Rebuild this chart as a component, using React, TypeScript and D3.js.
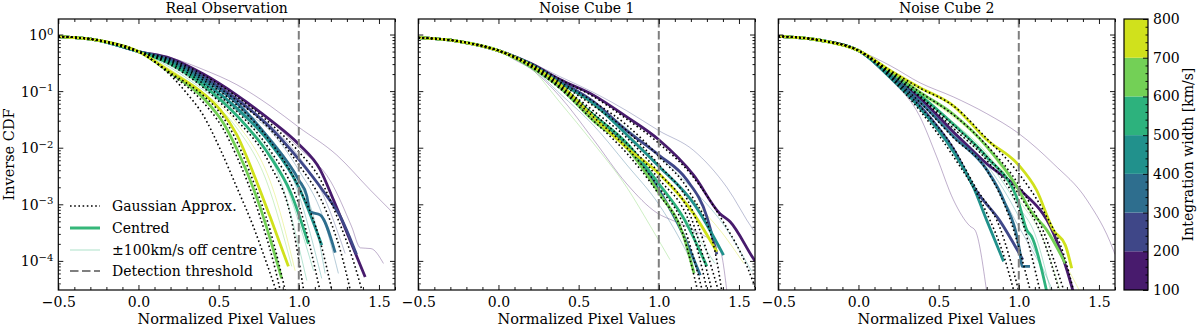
import React, { useEffect, useRef } from "react";
import * as d3 from "d3";

type Pt = [number, number];
type Curve = { band: number; pts: Pt[] };

// integration width bins [km/s], one colour per bin
const widthBins = [100, 200, 300, 400, 500, 600, 700, 800];
const panelTitles = ["Real Observation", "Noise Cube 1", "Noise Cube 2"];
const xMajorTicks = [-0.5, 0, 0.5, 1.0, 1.5];
const yMajorTicks = [1, 1e-1, 1e-2, 1e-3, 1e-4];
const yTickExponents = ["0", "\u22121", "\u22122", "\u22123", "\u22124"];
const detectionThreshold = 1.0;
const legendLabels = ["Gaussian Approx.", "Centred", "\u00b1100km/s off centre", "Detection threshold"];

// ---- Real Observation ----
const realHead: Pt[] = [[-0.5, 0.92], [-0.25, 0.79], [0, 0.5]];
const realCentred: Curve[] = [
  { band: 0, pts: [...realHead, [0.2, 0.38], [0.405, 0.2], [0.613, 0.085], [0.821, 0.031], [1.0, 0.0115], [1.133, 4.1e-3], [1.216, 1.2e-3], [1.32, 2.3e-4], [1.414, 5.2e-5]] },
  { band: 1, pts: [...realHead, [0.2, 0.36], [0.405, 0.18], [0.613, 0.072], [0.821, 0.023], [1.0, 6.2e-3], [1.16, 1.6e-3], [1.26, 6e-4], [1.36, 1.3e-4]] },
  { band: 2, pts: [...realHead, [0.2, 0.34], [0.405, 0.165], [0.613, 0.062], [0.821, 0.0138], [1.0, 2.7e-3], [1.05, 1.4e-3], [1.07, 7.4e-4], [1.133, 6.5e-4], [1.227, 1.4e-4]] },
  { band: 3, pts: [...realHead, [0.2, 0.32], [0.405, 0.145], [0.613, 0.05], [0.821, 0.012], [1.0, 2e-3], [1.143, 1.9e-4]] },
  { band: 4, pts: [...realHead, [0.2, 0.3], [0.405, 0.125], [0.613, 0.037], [0.821, 7e-3], [0.95, 1.6e-3], [1.06, 2e-4]] },
  { band: 5, pts: [...realHead, [0.2, 0.21], [0.405, 0.075], [0.53, 0.027], [0.613, 9.5e-3], [0.758, 9e-4], [0.893, 4.9e-5]] },
  { band: 6, pts: [...realHead, [0.2, 0.22], [0.405, 0.09], [0.509, 0.047], [0.613, 0.017], [0.717, 3.5e-3], [0.821, 6e-4], [0.935, 8e-5]] },
];
const realGauss: Pt[][] = [
  [...realHead, [0.2, 0.19], [0.29, 0.1], [0.405, 0.037], [0.509, 9.5e-3], [0.613, 2e-3], [0.717, 4e-4], [0.8, 9e-5], [0.862, 2.8e-5]],
  [...realHead, [0.2, 0.2], [0.405, 0.063], [0.53, 0.021], [0.613, 7e-3], [0.758, 6e-4], [0.84, 1e-4], [0.887, 2.8e-5]],
  [...realHead, [0.2, 0.21], [0.405, 0.083], [0.509, 0.041], [0.613, 0.013], [0.717, 2.5e-3], [0.821, 3.5e-4], [0.918, 2.8e-5]],
  [...realHead, [0.2, 0.29], [0.405, 0.115], [0.613, 0.031], [0.821, 5e-3], [0.95, 6e-4], [1.032, 2.8e-5]],
  [...realHead, [0.2, 0.31], [0.405, 0.135], [0.613, 0.044], [0.821, 9e-3], [1.0, 1e-3], [1.134, 2.8e-5]],
  [...realHead, [0.2, 0.33], [0.405, 0.155], [0.613, 0.057], [0.821, 0.013], [1.0, 2e-3], [1.12, 3e-4], [1.209, 2.8e-5]],
  [...realHead, [0.2, 0.35], [0.405, 0.172], [0.613, 0.068], [0.821, 0.021], [1.0, 5e-3], [1.16, 9e-4], [1.26, 1.5e-4], [1.324, 2.8e-5]],
  [...realHead, [0.2, 0.37], [0.405, 0.192], [0.613, 0.08], [0.821, 0.027], [1.0, 8.5e-3], [1.133, 2.8e-3], [1.25, 5e-4], [1.34, 1e-4], [1.397, 2.8e-5]],
];
const realOffCentre: Curve[] = [
  { band: 0, pts: [...realHead, [0.2, 0.39], [0.405, 0.24], [0.613, 0.13], [0.821, 0.055], [1.0, 0.023], [1.237, 7.4e-3], [1.445, 1.8e-3], [1.6, 6.5e-4]] },
  { band: 0, pts: [...realHead, [0.2, 0.36], [0.405, 0.18], [0.613, 0.075], [0.821, 0.03], [1.0, 0.01], [1.2, 2.5e-3], [1.33, 4e-4], [1.384, 1.7e-4], [1.45, 1.65e-4], [1.528, 9e-5]] },
  { band: 1, pts: [...realHead, [0.2, 0.35], [0.405, 0.165], [0.613, 0.063], [0.821, 0.025], [1.0, 7e-3], [1.15, 1.5e-3], [1.289, 1.35e-4]] },
  { band: 2, pts: [...realHead, [0.2, 0.33], [0.405, 0.155], [0.613, 0.052], [0.821, 0.02], [1.0, 4e-3], [1.15, 6e-4], [1.247, 6e-5]] },
  { band: 3, pts: [...realHead, [0.2, 0.31], [0.405, 0.135], [0.613, 0.044], [0.821, 0.015], [1.0, 2.5e-3], [1.1, 5e-4], [1.164, 6e-5]] },
  { band: 3, pts: [...realHead, [0.2, 0.3], [0.405, 0.125], [0.7, 0.03], [1.0, 1.5e-3], [1.143, 4.9e-5]] },
  { band: 4, pts: [...realHead, [0.2, 0.28], [0.405, 0.115], [0.7, 0.025], [0.9, 3e-3], [1.092, 6.7e-5]] },
  { band: 4, pts: [...realHead, [0.2, 0.26], [0.405, 0.105], [0.6, 0.04], [0.9, 2e-3], [1.05, 4.5e-5]] },
  { band: 6, pts: [...realHead, [0.2, 0.24], [0.405, 0.095], [0.6, 0.03], [0.85, 1.5e-3], [0.977, 6.7e-5]] },
  { band: 5, pts: [...realHead, [0.2, 0.22], [0.405, 0.085], [0.6, 0.025], [0.8, 2.5e-3], [0.956, 8e-5]] },
];

// ---- Noise Cube 1 ----
const noise1Head: Pt[] = [[-0.5, 0.88], [-0.25, 0.76], [0, 0.52]];
const noise1Centred: Curve[] = [
  { band: 0, pts: [...noise1Head, [0.2, 0.31], [0.384, 0.16], [0.592, 0.085], [0.8, 0.035], [1.0, 0.0138], [1.216, 3.3e-3], [1.38, 6.9e-4], [1.445, 4.9e-4], [1.59, 1.1e-4], [1.6, 1e-4]] },
  { band: 1, pts: [...noise1Head, [0.2, 0.3], [0.384, 0.15], [0.592, 0.065], [0.8, 0.02], [1.0, 7.4e-3], [1.175, 2.7e-3], [1.3, 6e-4], [1.362, 1.3e-4]] },
  { band: 2, pts: [...noise1Head, [0.2, 0.28], [0.384, 0.12], [0.592, 0.035], [0.8, 0.011], [1.0, 1.8e-3], [1.15, 3e-4], [1.258, 5.6e-5]] },
  { band: 3, pts: [...noise1Head, [0.2, 0.3], [0.384, 0.14], [0.592, 0.06], [0.8, 0.017], [1.0, 4.7e-3], [1.216, 1.05e-3], [1.404, 1.26e-4]] },
  { band: 4, pts: [...noise1Head, [0.2, 0.28], [0.384, 0.125], [0.592, 0.038], [0.8, 0.012], [1.0, 2.3e-3], [1.15, 6e-4], [1.3, 8e-5]] },
  { band: 5, pts: [...noise1Head, [0.2, 0.27], [0.384, 0.115], [0.592, 0.03], [0.8, 0.01], [1.0, 1.6e-3], [1.15, 3e-4], [1.22, 6e-5]] },
  { band: 6, pts: [...noise1Head, [0.2, 0.29], [0.384, 0.13], [0.592, 0.035], [0.8, 0.01], [1.0, 3.5e-3], [1.216, 6.9e-4], [1.362, 1.45e-4]] },
];
const noise1Gauss: Pt[][] = [
  [...noise1Head, [0.2, 0.27], [0.384, 0.11], [0.592, 0.03], [0.8, 8e-3], [1.0, 1.5e-3], [1.15, 3e-4], [1.244, 2.8e-5]],
  [...noise1Head, [0.2, 0.275], [0.384, 0.115], [0.592, 0.035], [0.8, 0.01], [1.0, 2e-3], [1.15, 4.5e-4], [1.274, 2.8e-5]],
  [...noise1Head, [0.2, 0.28], [0.384, 0.12], [0.592, 0.04], [0.8, 0.012], [1.0, 2.8e-3], [1.2, 4e-4], [1.304, 2.8e-5]],
  [...noise1Head, [0.2, 0.285], [0.384, 0.125], [0.592, 0.045], [0.8, 0.015], [1.0, 3.6e-3], [1.2, 6e-4], [1.334, 2.8e-5]],
  [...noise1Head, [0.2, 0.29], [0.384, 0.135], [0.592, 0.055], [0.8, 0.02], [1.0, 5e-3], [1.2, 9e-4], [1.374, 2.8e-5]],
  [...noise1Head, [0.2, 0.3], [0.384, 0.145], [0.592, 0.065], [0.8, 0.025], [1.0, 7e-3], [1.2, 1.5e-3], [1.35, 1.5e-4], [1.394, 2.8e-5]],
  [...noise1Head, [0.2, 0.31], [0.384, 0.16], [0.592, 0.08], [0.8, 0.032], [1.0, 0.012], [1.216, 3e-3], [1.4, 5e-4], [1.55, 8e-5], [1.6, 3.5e-5]],
];
const noise1OffCentre: Curve[] = [
  { band: 1, pts: [...noise1Head, [0.2, 0.32], [0.384, 0.18], [0.592, 0.095], [0.8, 0.045], [1.0, 0.02], [1.216, 9e-3], [1.424, 2e-3], [1.59, 3.5e-4], [1.6, 3.2e-4]] },
  { band: 0, pts: [...noise1Head, [0.1, 0.36], [0.2, 0.25], [0.384, 0.08], [0.592, 0.014], [0.8, 2.3e-3], [0.99, 7e-4], [1.1, 5e-4], [1.216, 3.5e-4], [1.383, 1.5e-4], [1.424, 3e-5]] },
  { band: 5, pts: [...noise1Head, [0.2, 0.26], [0.384, 0.063], [0.592, 0.012], [0.8, 2e-3], [0.95, 4e-4], [1.07, 1.05e-4]] },
  { band: 2, pts: [...noise1Head, [0.2, 0.27], [0.384, 0.09], [0.592, 0.025], [0.8, 5e-3], [1.0, 1e-3], [1.1, 3.5e-4], [1.21, 9e-5]] },
  { band: 6, pts: [...noise1Head, [0.2, 0.3], [0.384, 0.14], [0.592, 0.055], [0.8, 0.018], [1.0, 5e-3], [1.2, 1.3e-3], [1.4, 3e-4], [1.53, 9e-5]] },
  { band: 3, pts: [...noise1Head, [0.2, 0.3], [0.384, 0.145], [0.592, 0.06], [0.8, 0.022], [1.0, 7e-3], [1.2, 2e-3], [1.4, 4.5e-4], [1.58, 6.5e-5]] },
  { band: 4, pts: [...noise1Head, [0.2, 0.28], [0.384, 0.12], [0.592, 0.04], [0.8, 0.011], [1.0, 2.5e-3], [1.2, 4e-4], [1.35, 9e-5]] },
];

// ---- Noise Cube 2 ----
const noise2Head: Pt[] = [[-0.5, 0.93], [-0.25, 0.8], [0, 0.52]];
const noise2Centred: Curve[] = [
  { band: 0, pts: [...noise2Head, [0.2, 0.2], [0.384, 0.075], [0.592, 0.019], [0.8, 5.2e-3], [1.0, 1.9e-3], [1.216, 3.1e-4], [1.3, 6.9e-5], [1.34, 2.8e-5]] },
  { band: 1, pts: [...noise2Head, [0.2, 0.18], [0.384, 0.055], [0.592, 9.5e-3], [0.73, 1.8e-3], [0.88, 5.2e-4], [1.025, 1.05e-4]] },
  { band: 2, pts: [...noise2Head, [0.2, 0.19], [0.384, 0.065], [0.592, 0.016], [0.8, 4.1e-3], [0.904, 1.2e-3], [1.008, 1.35e-4], [1.02, 8e-5], [1.07, 8e-5]] },
  { band: 3, pts: [...noise2Head, [0.2, 0.17], [0.384, 0.05], [0.592, 8.5e-3], [0.717, 2e-3], [0.8, 5.2e-4], [0.905, 9.8e-5]] },
  { band: 4, pts: [...noise2Head, [0.2, 0.21], [0.384, 0.085], [0.592, 0.026], [0.8, 6.9e-3], [1.0, 1.05e-3], [1.05, 3.5e-4], [1.08, 2.7e-4], [1.175, 2.8e-5]] },
  { band: 5, pts: [...noise2Head, [0.2, 0.22], [0.384, 0.095], [0.592, 0.039], [0.8, 0.0105], [1.0, 1.8e-3], [1.07, 7.9e-4], [1.175, 3.5e-4], [1.29, 9e-5]] },
  { band: 6, pts: [...noise2Head, [0.2, 0.23], [0.384, 0.115], [0.592, 0.055], [0.8, 0.0138], [1.0, 4.9e-3], [1.11, 1.8e-3], [1.216, 3.5e-4], [1.29, 1.9e-4], [1.33, 7.4e-5]] },
];
const noise2Gauss: Pt[][] = [
  [...noise2Head, [0.2, 0.17], [0.384, 0.045], [0.592, 7e-3], [0.8, 7e-4], [0.9, 1.4e-4], [0.971, 2.8e-5]],
  [...noise2Head, [0.2, 0.18], [0.384, 0.053], [0.592, 0.01], [0.73, 2e-3], [0.88, 4e-4], [1.002, 2.8e-5]],
  [...noise2Head, [0.2, 0.19], [0.384, 0.063], [0.592, 0.015], [0.8, 4e-3], [0.95, 5e-4], [1.074, 2.8e-5]],
  [...noise2Head, [0.2, 0.205], [0.384, 0.078], [0.592, 0.022], [0.8, 6e-3], [1.0, 8e-4], [1.134, 2.8e-5]],
  [...noise2Head, [0.2, 0.21], [0.384, 0.082], [0.592, 0.025], [0.8, 7e-3], [1.0, 1.5e-3], [1.15, 2.5e-4], [1.254, 2.8e-5]],
  [...noise2Head, [0.2, 0.22], [0.384, 0.095], [0.592, 0.038], [0.8, 0.011], [1.0, 2.2e-3], [1.15, 3.5e-4], [1.284, 2.8e-5]],
  [...noise2Head, [0.2, 0.23], [0.384, 0.113], [0.592, 0.055], [0.8, 0.0145], [1.0, 3.5e-3], [1.15, 8e-4], [1.28, 1.3e-4], [1.344, 2.8e-5]],
];
const noise2OffCentre: Curve[] = [
  { band: 0, pts: [...noise2Head, [0.2, 0.28], [0.384, 0.14], [0.592, 0.079], [0.8, 0.04], [1.0, 0.0178], [1.216, 5.2e-3], [1.424, 1.2e-3], [1.59, 1.55e-4], [1.6, 1.3e-4]] },
  { band: 0, pts: [...noise2Head, [0.1, 0.3], [0.2, 0.16], [0.384, 0.035], [0.488, 6.9e-3], [0.592, 1.2e-3], [0.696, 4.1e-4], [0.727, 3.5e-4], [0.8, 2.8e-5]] },
  { band: 3, pts: [...noise2Head, [0.2, 0.19], [0.384, 0.07], [0.592, 0.02], [0.8, 5e-3], [1.0, 6e-4], [1.1, 1.5e-4], [1.216, 2.8e-5]] },
  { band: 6, pts: [...noise2Head, [0.2, 0.22], [0.384, 0.09], [0.592, 0.035], [0.8, 0.01], [1.0, 1.5e-3], [1.2, 2.5e-4], [1.383, 2.8e-5]] },
  { band: 5, pts: [...noise2Head, [0.2, 0.21], [0.384, 0.08], [0.592, 0.028], [0.8, 8e-3], [1.0, 1.2e-3], [1.15, 2.5e-4], [1.26, 2.8e-5]] },
  { band: 2, pts: [...noise2Head, [0.2, 0.19], [0.384, 0.065], [0.592, 0.018], [0.8, 4e-3], [1.0, 4e-4], [1.13, 9e-5]] },
  { band: 4, pts: [...noise2Head, [0.2, 0.21], [0.384, 0.075], [0.592, 0.022], [0.8, 6e-3], [1.0, 9e-4], [1.1, 3e-4], [1.2, 2.8e-5]] },
];

const panels = [
  { title: panelTitles[0], centred: realCentred, gauss: realGauss, off: realOffCentre },
  { title: panelTitles[1], centred: noise1Centred, gauss: noise1Gauss, off: noise1OffCentre },
  { title: panelTitles[2], centred: noise2Centred, gauss: noise2Gauss, off: noise2OffCentre },
];

const FONT = "'DejaVu Serif', serif";
const FS = 14;
const PANEL_X = [58.3, 418.3, 778.3];
const TOP = 19;
const PW = 336.7;
const PH = 271;
const THRESH_DASH = "8.5,3.5";

export default function App() {
  const ref = useRef<SVGSVGElement>(null);

  useEffect(() => {
    const svg = d3.select(ref.current);
    svg.selectAll("*").remove();

    const x = d3.scaleLinear().domain([-0.5, 1.6]).range([0, PW]);
    const y = d3.scaleLog().domain([3.06e-5, 1.88]).range([PH, 0]);
    const nBins = widthBins.length - 1;
    const color = (b: number) => d3.interpolateViridis((b + 0.5) / nBins);
    const line = d3
      .line<Pt>()
      .x((d) => x(d[0]))
      .y((d) => y(d[1]))
      .curve(d3.curveMonotoneX);

    const xMinor = d3.range(-5, 17).map((v) => v / 10).filter((v) => !xMajorTicks.some((m) => Math.abs(m - v) < 1e-6));
    const yMinor: number[] = [];
    for (let e = -5; e <= 0; e++) {
      for (let k = 2; k <= 9; k++) {
        const v = k * Math.pow(10, e);
        if (v > 3.06e-5 && v < 1.88) yMinor.push(v);
      }
    }

    const styleAxis = (g: any) => {
      g.select(".domain").remove();
      g.selectAll("line").attr("stroke", "#000").attr("stroke-width", 0.9);
      g.selectAll("text").attr("font-family", FONT).attr("font-size", FS).attr("fill", "#000");
    };

    panels.forEach((p, i) => {
      const g = svg.append("g").attr("transform", `translate(${PANEL_X[i]},${TOP})`);
      g.append("clipPath").attr("id", `clip${i}`).append("rect").attr("width", PW).attr("height", PH);
      const plot = g.append("g").attr("clip-path", `url(#clip${i})`);

      // ±100 km/s off-centre
      plot
        .selectAll(".off")
        .data(p.off)
        .join("path")
        .attr("d", (d) => line(d.pts))
        .attr("fill", "none")
        .attr("stroke", (d) => color(d.band))
        .attr("stroke-width", 1)
        .attr("stroke-opacity", 0.35);

      // centred
      plot
        .selectAll(".cen")
        .data(p.centred)
        .join("path")
        .attr("d", (d) => line(d.pts))
        .attr("fill", "none")
        .attr("stroke", (d) => color(d.band))
        .attr("stroke-width", 2.8);

      // gaussian approximation
      plot
        .selectAll(".gau")
        .data(p.gauss)
        .join("path")
        .attr("d", (d) => line(d))
        .attr("fill", "none")
        .attr("stroke", "#000")
        .attr("stroke-width", 1.6)
        .attr("stroke-dasharray", "1.6,2.6");

      // detection threshold
      plot
        .append("line")
        .attr("x1", x(detectionThreshold))
        .attr("x2", x(detectionThreshold))
        .attr("y1", 0)
        .attr("y2", PH)
        .attr("stroke", "#7f7f7f")
        .attr("stroke-width", 2)
        .attr("stroke-dasharray", THRESH_DASH);

      // ticks on all four sides, pointing in
      g.append("g").attr("transform", `translate(0,${PH})`)
        .call(d3.axisBottom(x).tickValues(xMajorTicks).tickSize(-5).tickPadding(7).tickFormat((d) => d3.format(".1f")(d as number).replace("-", "\u2212")))
        .call(styleAxis);
      g.append("g").attr("transform", `translate(0,${PH})`)
        .call(d3.axisBottom(x).tickValues(xMinor).tickSize(-3).tickFormat(() => ""))
        .call(styleAxis);
      g.append("g").call(d3.axisTop(x).tickValues(xMajorTicks).tickSize(-5).tickFormat(() => "")).call(styleAxis);
      g.append("g").call(d3.axisTop(x).tickValues(xMinor).tickSize(-3).tickFormat(() => "")).call(styleAxis);

      const yl = g.append("g")
        .call(d3.axisLeft(y).tickValues(yMajorTicks).tickSize(-5).tickPadding(5).tickFormat(() => ""))
        .call(styleAxis);
      if (i === 0) {
        yl.selectAll<SVGTextElement, number>("text").each(function (_d, k) {
          const t = d3.select(this);
          t.attr("dy", "0.36em").text("10");
          t.append("tspan").attr("dy", "-0.55em").attr("font-size", 10).text(yTickExponents[k]);
        });
      }
      g.append("g").call(d3.axisLeft(y).tickValues(yMinor).tickSize(-2.5).tickFormat(() => "")).call(styleAxis);
      g.append("g").attr("transform", `translate(${PW},0)`)
        .call(d3.axisRight(y).tickValues(yMajorTicks).tickSize(-5).tickFormat(() => "")).call(styleAxis);
      g.append("g").attr("transform", `translate(${PW},0)`)
        .call(d3.axisRight(y).tickValues(yMinor).tickSize(-2.5).tickFormat(() => "")).call(styleAxis);

      // frame
      g.append("rect").attr("width", PW).attr("height", PH).attr("fill", "none").attr("stroke", "#000").attr("stroke-width", 1.2);

      g.append("text")
        .attr("x", PW / 2)
        .attr("y", 13 - TOP)
        .attr("text-anchor", "middle")
        .attr("font-family", FONT)
        .attr("font-size", FS)
        .text(p.title);
      g.append("text")
        .attr("x", PW / 2)
        .attr("y", 324 - TOP)
        .attr("text-anchor", "middle")
        .attr("font-family", FONT)
        .attr("font-size", 14.5)
        .text("Normalized Pixel Values");
    });

    // y label
    svg.append("text")
      .attr("transform", `translate(14,${TOP + PH / 2}) rotate(-90)`)
      .attr("text-anchor", "middle")
      .attr("font-family", FONT)
      .attr("font-size", 14.5)
      .text("Inverse CDF");

    // legend (inside first panel)
    const lg = svg.append("g");
    const rows = [206, 228, 250, 271];
    const lx0 = 70, lx1 = 100;
    lg.append("line").attr("x1", lx0).attr("x2", lx1).attr("y1", rows[0]).attr("y2", rows[0])
      .attr("stroke", "#000").attr("stroke-width", 1.6).attr("stroke-dasharray", "1.6,2.6");
    lg.append("line").attr("x1", lx0).attr("x2", lx1).attr("y1", rows[1]).attr("y2", rows[1])
      .attr("stroke", "#35b779").attr("stroke-width", 3);
    lg.append("line").attr("x1", lx0).attr("x2", lx1).attr("y1", rows[2]).attr("y2", rows[2])
      .attr("stroke", "#35b779").attr("stroke-opacity", 0.4).attr("stroke-width", 1);
    lg.append("line").attr("x1", lx0).attr("x2", lx1).attr("y1", rows[3]).attr("y2", rows[3])
      .attr("stroke", "#7f7f7f").attr("stroke-width", 2).attr("stroke-dasharray", THRESH_DASH);
    lg.selectAll("text")
      .data(legendLabels)
      .join("text")
      .attr("x", 112)
      .attr("y", (_d, k) => rows[k] + 5)
      .attr("font-family", FONT)
      .attr("font-size", FS)
      .text((d) => d);

    // colourbar
    const cbX = 1124, cbW = 24;
    const cy = d3.scaleLinear().domain([100, 800]).range([TOP + PH, TOP]);
    const cb = svg.append("g").attr("transform", `translate(${cbX},0)`);
    cb.selectAll("rect")
      .data(d3.range(nBins))
      .join("rect")
      .attr("x", 0)
      .attr("width", cbW)
      .attr("y", (b) => cy(widthBins[b + 1]))
      .attr("height", (b) => cy(widthBins[b]) - cy(widthBins[b + 1]))
      .attr("fill", (b) => color(b));
    cb.append("g").attr("transform", `translate(${cbW},0)`)
      .call(d3.axisRight(cy).tickValues(widthBins).tickSize(-5).tickPadding(5))
      .call(styleAxis);
    cb.append("g").attr("transform", `translate(${cbW},0)`)
      .call(d3.axisRight(cy).tickValues(d3.range(120, 800, 20).filter((v) => v % 100 !== 0)).tickSize(-2.5).tickFormat(() => ""))
      .call(styleAxis);
    cb.append("rect").attr("width", cbW).attr("y", TOP).attr("height", PH)
      .attr("fill", "none").attr("stroke", "#000").attr("stroke-width", 1.2);
    svg.append("text")
      .attr("transform", `translate(1193,${TOP + PH / 2}) rotate(-90)`)
      .attr("text-anchor", "middle")
      .attr("font-family", FONT)
      .attr("font-size", FS)
      .text("Integration width [km/s]");
  }, []);

  return (
    <svg
      ref={ref}
      width={1200}
      height={326}
      style={{ position: "absolute", left: 0, top: 0, background: "#fff" }}
    />
  );
}
